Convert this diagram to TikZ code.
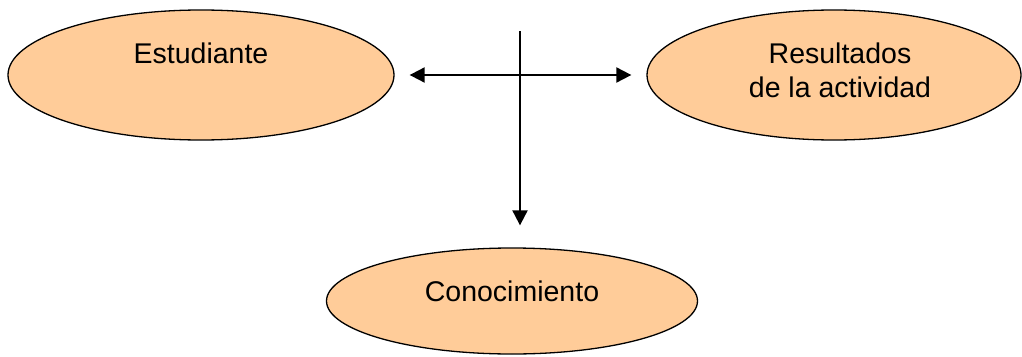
\documentclass[tikz,border=0pt]{standalone}
\usepackage{fontspec}
\setmainfont{Liberation Sans}
\usetikzlibrary{shapes.geometric,arrows.meta}
\definecolor{peach}{HTML}{FFCC99}
\tikzset{
  oval/.style={ellipse, draw=black, line width=1.3pt, fill=peach, inner sep=0pt},
  caption/.style={anchor=base, font=\fontsize{28.5}{34}\selectfont, align=center, inner sep=0pt},
  link/.style={line width=2pt, -{Triangle[length=15pt,width=15pt]}},
  dlink/.style={line width=2pt, {Triangle[length=15pt,width=15pt]}-{Triangle[length=15pt,width=15pt]}}
}
\begin{document}
\begin{tikzpicture}[x=1pt,y=-1pt]
  \useasboundingbox (0,0) rectangle (1022,356);
  % the three concepts
  \node[oval, minimum width=386pt, minimum height=130pt] (est) at (201,75) {};
  \node[oval, minimum width=374pt, minimum height=130pt] (res) at (834,75) {};
  \node[oval, minimum width=371pt, minimum height=106pt] (con) at (512,301) {};
  % their captions
  \node[caption] (estT) at (201,63) {Estudiante};
  \node[caption] (resT) at (840,63) {Resultados};
  \node[caption] (resT2) at (840,97) {de la actividad};
  \node[caption] (conT) at (512,301) {Conocimiento};
  % connectors
  \coordinate (top) at (520,31);
  \coordinate (cross) at (520,75);
  \draw[dlink, shorten <=15pt, shorten >=15pt] (est.east) -- (res.west);
  \draw[link, shorten >=22pt] (top) -- (top |- con.north);
\end{tikzpicture}
\end{document}
